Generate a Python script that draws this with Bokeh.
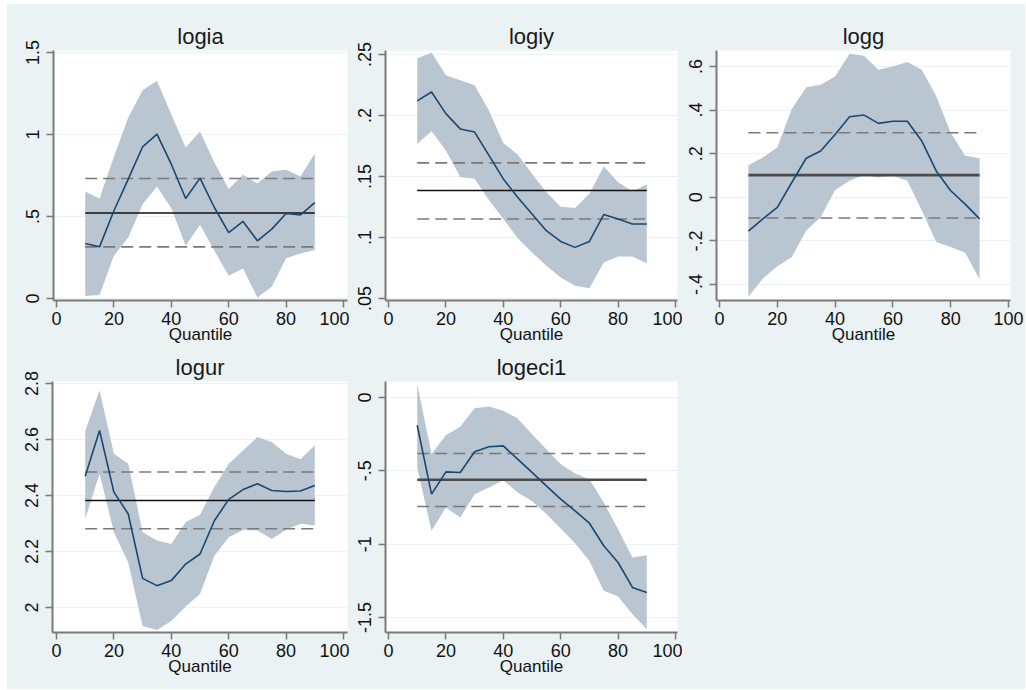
from bokeh.plotting import figure
from bokeh.layouts import column, row
from bokeh.models import FixedTicker, Spacer
from bokeh.embed import file_html
from bokeh.resources import INLINE

# ---------------- data ----------------
quantiles = [10, 15, 20, 25, 30, 35, 40, 45, 50, 55, 60, 65, 70, 75, 80, 85, 90]
x_ticks = [0, 20, 40, 60, 80, 100]
x_tick_labels = ["0", "20", "40", "60", "80", "100"]

titles = ["logia", "logiy", "logg", "logur", "logeci1"]

logia_coef = [0.335, 0.315, 0.535, 0.728, 0.925, 1.002, 0.819, 0.610, 0.734, 0.555,
              0.402, 0.470, 0.352, 0.423, 0.518, 0.510, 0.585]
logia_upper = [0.652, 0.610, 0.864, 1.104, 1.270, 1.327, 1.124, 0.921, 1.018, 0.829,
               0.667, 0.754, 0.701, 0.774, 0.785, 0.744, 0.884]
logia_lower = [0.016, 0.022, 0.260, 0.372, 0.575, 0.683, 0.551, 0.321, 0.449, 0.291,
               0.138, 0.183, 0.006, 0.071, 0.246, 0.274, 0.295]
logia_ols = [0.522, 0.315, 0.732]          # estimate, lower CI, upper CI
logia_ticks = [0, 0.5, 1, 1.5]
logia_tick_labels = ["0", ".5", "1", "1.5"]

logiy_coef = [0.2120, 0.2193, 0.2015, 0.1890, 0.1864, 0.1673, 0.1480, 0.1330, 0.1193,
              0.1056, 0.0968, 0.0919, 0.0968, 0.1188, 0.1152, 0.1111, 0.1111]
logiy_upper = [0.2467, 0.2516, 0.2330, 0.2289, 0.2248, 0.2042, 0.1774, 0.1681, 0.1522,
               0.1371, 0.1253, 0.1242, 0.1358, 0.1582, 0.1453, 0.1379, 0.1434]
logiy_lower = [0.1768, 0.1870, 0.1714, 0.1495, 0.1481, 0.1308, 0.1152, 0.0996, 0.0878,
               0.0768, 0.0673, 0.0604, 0.0585, 0.0796, 0.0845, 0.0845, 0.0788]
logiy_ols = [0.1385, 0.1152, 0.1612]
logiy_ticks = [0.05, 0.1, 0.15, 0.2, 0.25]
logiy_tick_labels = [".05", ".1", ".15", ".2", ".25"]

logg_coef = [-0.155, -0.099, -0.046, 0.068, 0.179, 0.212, 0.288, 0.369, 0.377, 0.339,
             0.349, 0.349, 0.258, 0.121, 0.030, -0.031, -0.099]
logg_upper = [0.147, 0.182, 0.228, 0.405, 0.504, 0.516, 0.554, 0.658, 0.649, 0.585,
              0.600, 0.620, 0.585, 0.463, 0.296, 0.190, 0.179]
logg_lower = [-0.456, -0.372, -0.316, -0.274, -0.152, -0.091, 0.034, 0.076, 0.103, 0.091,
              0.099, 0.076, -0.061, -0.205, -0.228, -0.254, -0.376]
logg_ols = [0.1015, -0.095, 0.296]
logg_ticks = [-0.4, -0.2, 0, 0.2, 0.4, 0.6]
logg_tick_labels = ["-.4", "-.2", "0", ".2", ".4", ".6"]

logur_coef = [2.469, 2.632, 2.412, 2.334, 2.104, 2.078, 2.096, 2.155, 2.191, 2.310,
              2.386, 2.421, 2.442, 2.418, 2.414, 2.416, 2.436]
logur_upper = [2.629, 2.776, 2.549, 2.513, 2.269, 2.239, 2.227, 2.304, 2.331, 2.430,
               2.513, 2.561, 2.609, 2.591, 2.549, 2.529, 2.579]
logur_lower = [2.316, 2.478, 2.269, 2.161, 1.934, 1.920, 1.952, 2.004, 2.048, 2.185,
               2.251, 2.277, 2.275, 2.245, 2.278, 2.299, 2.293]
logur_ols = [2.382, 2.281, 2.484]
logur_ticks = [2.0, 2.2, 2.4, 2.6, 2.8]
logur_tick_labels = ["2", "2.2", "2.4", "2.6", "2.8"]

logeci1_coef = [-0.189, -0.659, -0.507, -0.511, -0.370, -0.336, -0.330, -0.420, -0.511,
                -0.602, -0.693, -0.773, -0.857, -1.011, -1.125, -1.295, -1.330]
logeci1_upper = [0.091, -0.386, -0.257, -0.200, -0.073, -0.061, -0.091, -0.143, -0.250,
                 -0.352, -0.455, -0.518, -0.557, -0.716, -0.898, -1.091, -1.075]
logeci1_lower = [-0.477, -0.909, -0.750, -0.818, -0.659, -0.614, -0.564, -0.648, -0.705,
                 -0.795, -0.893, -0.993, -1.114, -1.318, -1.357, -1.477, -1.580]
logeci1_ols = [-0.561, -0.743, -0.382]
logeci1_ticks = [-1.5, -1.0, -0.5, 0]
logeci1_tick_labels = ["-1.5", "-1", "-.5", "0"]

# ---------------- style ----------------
BG = "#EAF2F3"
BAND = "#B9C6D2"
NAVY = "#1A476F"
AXIS = "#7a7a7a"
FONT = "Liberation Sans"

# panel geometry: (width, height, left, right, top, bottom, xrange, yrange, ols width, ols colour)
layout_specs = [
    (342, 343, 46, 2, 46, 47, (-1.045, 101.39), (-0.0122, 1.5122), 1.5, "#111111"),
    (333, 343, 36, 5, 46, 47, (-1.045, 100.70), (0.04836, 0.25328), 1.5, "#111111"),
    (343, 343, 34, 15, 45, 47, (-1.038, 100.69), (-0.473, 0.673), 2.6, "#4a4a4a"),
    (342, 342, 45, 2, 34, 57, (-1.394, 101.39), (1.9107, 2.8071), 1.5, "#111111"),
    (333, 342, 36, 5, 34, 57, (-1.045, 100.70), (-1.6022, 0.1091), 2.6, "#4a4a4a"),
]

series = [
    (logia_coef, logia_lower, logia_upper, logia_ols, logia_ticks, logia_tick_labels),
    (logiy_coef, logiy_lower, logiy_upper, logiy_ols, logiy_ticks, logiy_tick_labels),
    (logg_coef, logg_lower, logg_upper, logg_ols, logg_ticks, logg_tick_labels),
    (logur_coef, logur_lower, logur_upper, logur_ols, logur_ticks, logur_tick_labels),
    (logeci1_coef, logeci1_lower, logeci1_upper, logeci1_ols, logeci1_ticks, logeci1_tick_labels),
]


def make_panel(title, spec, data):
    (w, h, bl, br, bt, bb, xr, yr, ols_w, ols_c) = spec
    coef, lower, upper, ols, yticks, ylabels = data
    p = figure(width=w, height=h, x_range=xr, y_range=yr,
               output_backend="svg", toolbar_location=None,
               min_border_left=bl, min_border_right=br,
               min_border_top=bt, min_border_bottom=bb,
               background_fill_color="white", border_fill_color=BG,
               outline_line_color=None)
    p.title.text = title
    p.title.align = "center"
    p.title.text_font = FONT
    p.title.text_font_size = "22px"
    p.title.text_font_style = "normal"
    p.title.text_color = "#1a1a1a"
    p.title.standoff = 4

    p.varea(x=quantiles, y1=lower, y2=upper, fill_color=BAND, fill_alpha=1.0)
    xs = [quantiles[0], quantiles[-1]]
    p.line(xs, [ols[0], ols[0]], line_color=ols_c, line_width=ols_w)
    p.line(xs, [ols[1], ols[1]], line_color="#7a7a7a", line_width=1.6, line_dash="12 6")
    p.line(xs, [ols[2], ols[2]], line_color="#7a7a7a", line_width=1.6, line_dash="12 6")
    p.line(quantiles, coef, line_color=NAVY, line_width=1.6)

    xa = p.xaxis[0]
    xa.ticker = FixedTicker(ticks=x_ticks)
    xa.major_label_overrides = {t: s for t, s in zip(x_ticks, x_tick_labels)}
    xa.axis_label = "Quantile"
    ya = p.yaxis[0]
    ya.ticker = FixedTicker(ticks=yticks)
    ya.major_label_overrides = {t: s for t, s in zip(yticks, ylabels)}
    ya.major_label_orientation = "vertical"
    for ax in (xa, ya):
        ax.axis_line_color = AXIS
        ax.axis_line_width = 2
        ax.major_tick_line_color = AXIS
        ax.major_tick_line_width = 1.5
        ax.major_tick_in = 0
        ax.major_tick_out = 7
        ax.minor_tick_line_color = None
        ax.major_label_text_font = FONT
        ax.major_label_text_font_size = "18px"
        ax.major_label_text_color = "#111111"
    xa.major_label_standoff = 4
    ya.major_label_standoff = 7
    xa.axis_label_text_font = FONT
    xa.axis_label_text_font_size = "17px"
    xa.axis_label_text_font_style = "normal"
    xa.axis_label_text_color = "#111111"
    xa.axis_label_standoff = -3

    p.xgrid.grid_line_color = None
    p.ygrid.ticker = FixedTicker(ticks=yticks)
    p.ygrid.grid_line_color = BG
    p.ygrid.grid_line_width = 1.2
    return p


panels = [make_panel(t, s, d) for t, s, d in zip(titles, layout_specs, series)]

blank = figure(width=343, height=342, output_backend="svg", toolbar_location=None,
               background_fill_color=BG, border_fill_color=BG, outline_line_color=None,
               min_border=0)
blank.xaxis.visible = False
blank.yaxis.visible = False
blank.grid.visible = False
blank.line([0, 1], [0, 0], line_alpha=0)

inner = column(row(panels[0], panels[1], panels[2], styles={"background-color": BG}),
               row(panels[3], panels[4], blank, styles={"background-color": BG}),
               styles={"background-color": BG})
page = column(Spacer(height=4), row(Spacer(width=7), inner))

open("out.html", "w").write(file_html(page, INLINE))
